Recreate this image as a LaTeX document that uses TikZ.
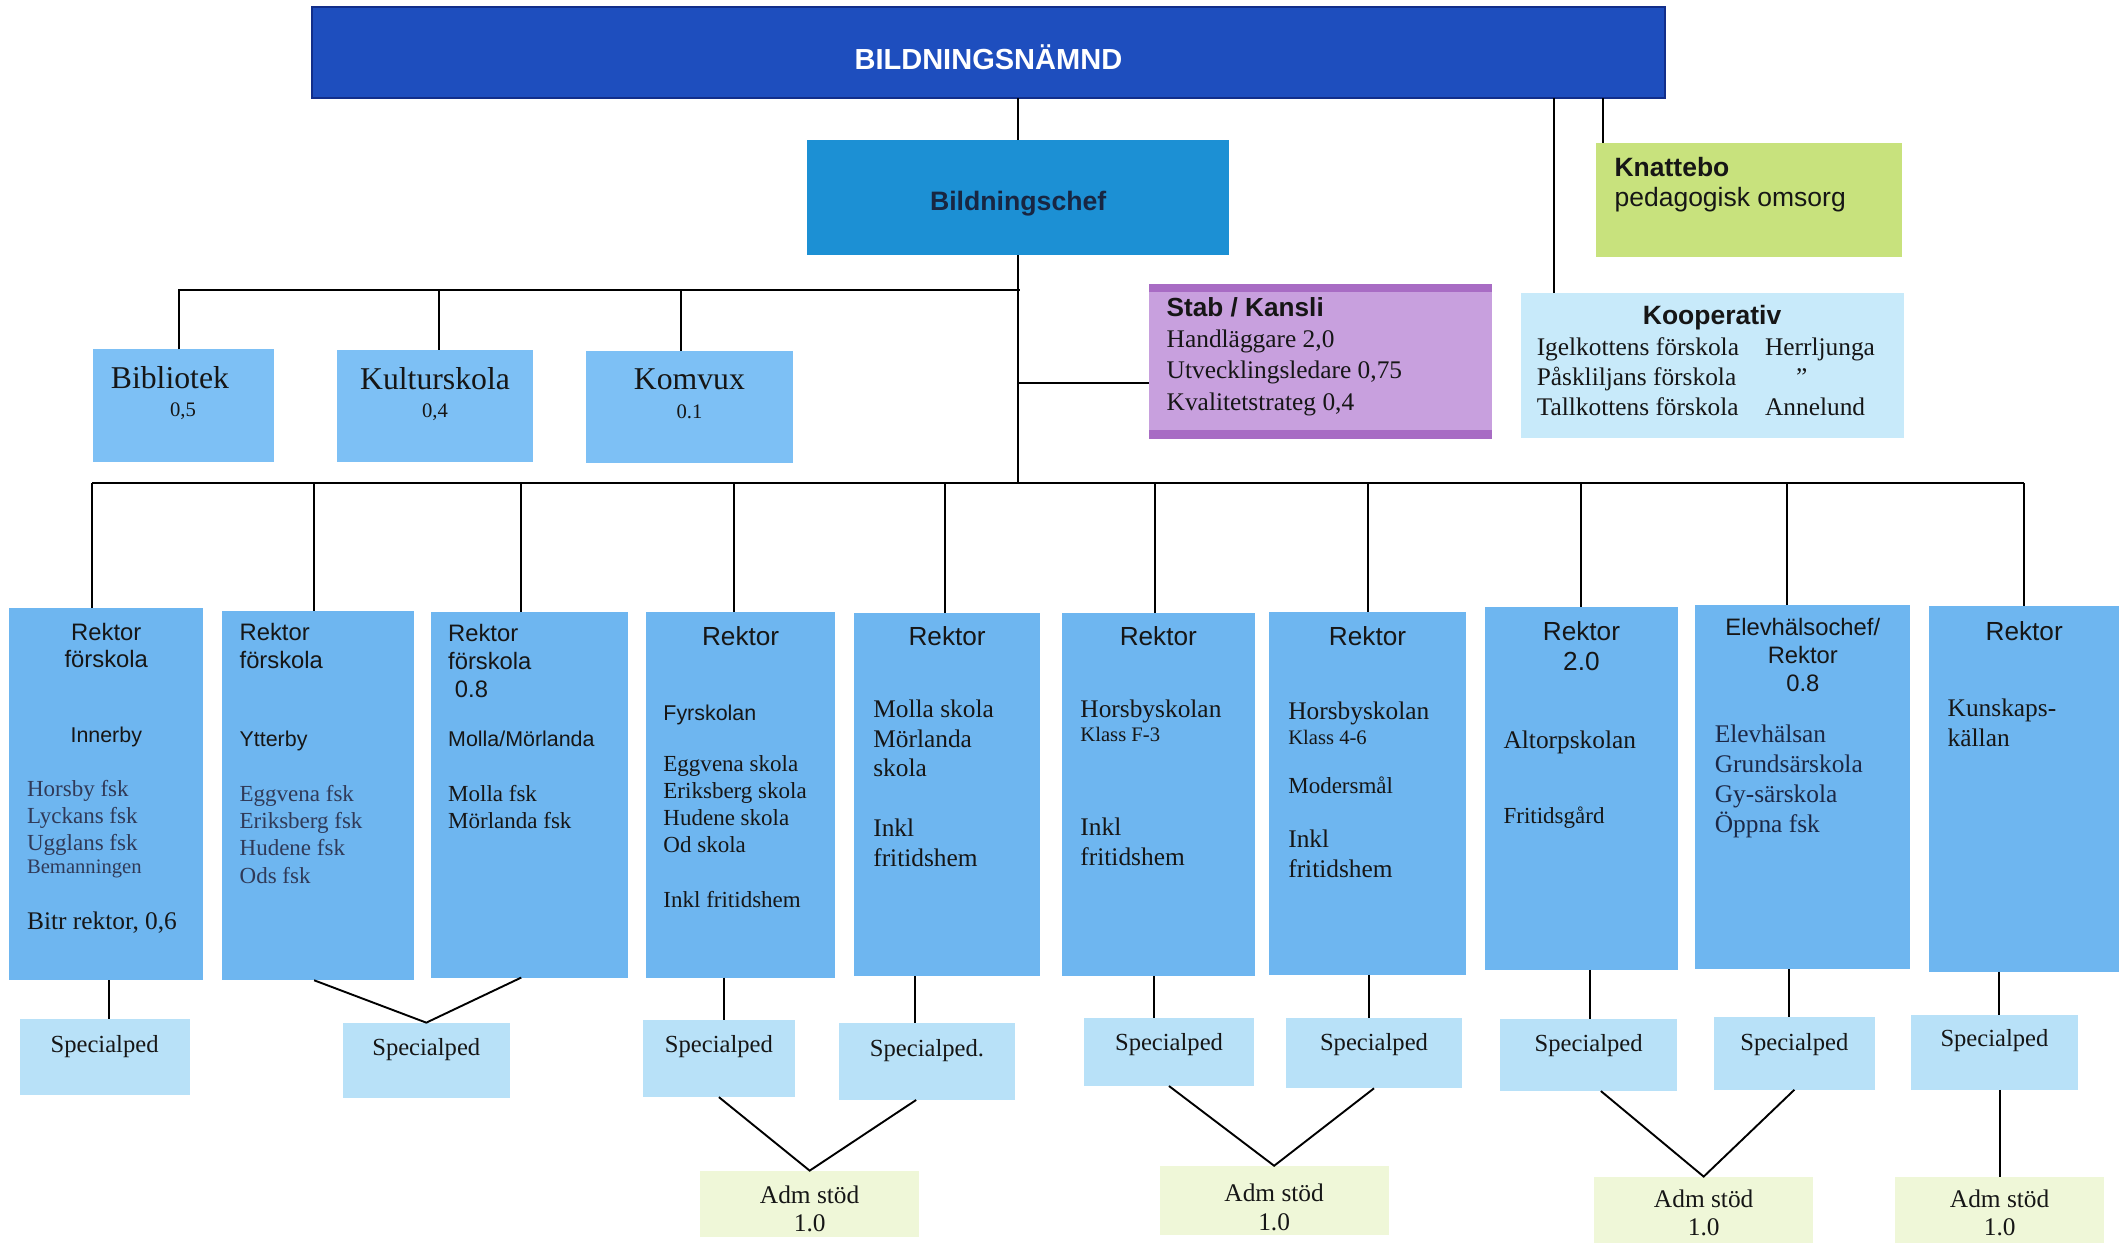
\documentclass[tikz,border=0pt]{standalone}
\usepackage{fontspec}
\setmainfont{Liberation Serif}
\setsansfont{Liberation Sans}
\usetikzlibrary{calc}

\newlength{\px}
\setlength{\px}{0.03cm}

\definecolor{board-blue}{RGB}{30,78,190}
\definecolor{board-edge}{RGB}{18,46,138}
\definecolor{chef-blue}{RGB}{28,144,212}
\definecolor{chef-text}{RGB}{24,38,66}
\definecolor{rektor-blue}{RGB}{110,182,240}
\definecolor{unit-blue}{RGB}{125,192,245}
\definecolor{spec-blue}{RGB}{184,225,248}
\definecolor{adm-green}{RGB}{239,247,216}
\definecolor{knatt-green}{RGB}{200,226,125}
\definecolor{stab-purple}{RGB}{200,160,222}
\definecolor{stab-edge}{RGB}{168,108,196}
\definecolor{koop-blue}{RGB}{200,234,250}
\definecolor{ink}{RGB}{22,22,22}
\definecolor{soft-ink}{RGB}{48,58,88}
\definecolor{navy-ink}{RGB}{28,40,70}

\newcommand{\inbox}[4]{\parbox[c][#2\px][t]{#1\px}{\rule{0pt}{#3\px}#4}}
\newcommand{\hdsmall}{\sffamily\fontsize{15}{20.5\px}\selectfont}
\newcommand{\hdlarge}{\sffamily\fontsize{16.5}{22.6\px}\selectfont}
\newcommand{\subsans}{\sffamily\fontsize{13.5}{19\px}\selectfont}
\newcommand{\bodytext}{\rmfamily\fontsize{14.5}{20\px}\selectfont}
\newcommand{\bodylarge}{\rmfamily\fontsize{16}{22\px}\selectfont}
\newcommand{\bodysmall}{\rmfamily\fontsize{13}{17\px}\selectfont}
\newcommand{\unitsmall}{\rmfamily\fontsize{13}{21\px}\selectfont}

\tikzset{
    org-node/.style = {anchor=north west, inner ysep=0pt, inner xsep=#1*\px, outer sep=0pt, text=ink},
    org-node/.default = 0,
    board-box/.style = {org-node, fill=board-blue, draw=board-edge, line width=1.2pt, text=white, font=\sffamily\bfseries\fontsize{18.3}{22}\selectfont},
    chef-box/.style = {org-node, fill=chef-blue, text=chef-text, font=\sffamily\bfseries\fontsize{16.8}{20}\selectfont},
    knatt-box/.style = {org-node=13.5, fill=knatt-green, font=\sffamily\fontsize{16.7}{22.6\px}\selectfont},
    stab-box/.style = {org-node=13, fill=stab-purple, font=\rmfamily\fontsize{16}{23\px}\selectfont},
    koop-box/.style = {org-node=12, fill=koop-blue, font=\rmfamily\fontsize{16}{22.2\px}\selectfont},
    unit-box/.style = {org-node=#1, fill=unit-blue, font=\rmfamily\fontsize{20}{24}\selectfont},
    unit-box/.default = 0,
    rektor-box/.style = {org-node=#1, fill=rektor-blue},
    rektor-box/.default = 13,
    spec-box/.style = {org-node, fill=spec-blue, font=\rmfamily\fontsize{15.5}{19}\selectfont},
    adm-box/.style = {org-node, fill=adm-green, font=\rmfamily\fontsize{16}{21\px}\selectfont},
    link/.style = {draw=black, line width=1.2pt},
}

\begin{document}
\begin{tikzpicture}[x=0.03cm, y=-0.03cm]
\path[use as bounding box, fill=white] (0,0) rectangle (1568,918);

\node[board-box] (board) at (230.6,5.4) {\inbox{998.8}{67.2}{45.8}{\centering BILDNINGSNÄMND\par}};
\node[chef-box] (chef) at (596,103.4) {\inbox{312}{85}{52.2}{\centering Bildningschef\par}};
\node[knatt-box] (knat) at (1179,105.4) {\inbox{199}{84.2}{24.6}{\raggedright\textbf{Knattebo}\\pedagogisk omsorg\par}};
\node[stab-box] (stab) at (848.7,209.8) {\inbox{227}{114.6}{24.1}{{\raggedright\sffamily\bfseries\fontsize{16.5}{23\px}\selectfont Stab / Kansli\par}{\raggedright Handläggare 2,0\\Utvecklingsledare 0,75\\Kvalitetstrateg 0,4\par}}};
\fill[stab-edge] (stab.north west) rectangle ($(stab.north east)+(0,6)$);
\fill[stab-edge] (stab.south west) rectangle ($(stab.south east)+(0,-7)$);
\node[koop-box] (koop) at (1123,216.6) {\inbox{259}{107}{23.4}{{\centering\sffamily\bfseries\fontsize{16.7}{22.2\px}\selectfont Kooperativ\par}{\raggedright\makebox[168.6\px][l]{Igelkottens förskola}Herrljunga\\\makebox[168.6\px][l]{Påskliljans förskola}\hspace{23\px}”\\\makebox[168.6\px][l]{Tallkottens förskola}Annelund\par}}};

\node[unit-box=13.5] (bib) at (68.4,258) {\inbox{106.6}{83}{28.7}{{\raggedright Bibliotek\par}{\centering\unitsmall 0,5\par}}};
\node[unit-box] (kult) at (248.8,258.5) {\inbox{145}{82.5}{29}{\centering Kulturskola\par{\unitsmall 0,4\par}}};
\node[unit-box] (komv) at (432.7,259) {\inbox{153}{82.7}{29}{\centering Komvux\par{\unitsmall 0.1\par}}};

\node[rektor-box] (r1) at (7,449) {\inbox{117}{275}{23.7}{%
    {\centering\hdsmall Rektor\\förskola\par}\vspace{36\px}
    {\centering\subsans Innerby\par}\vspace{20\px}
    {\raggedright\color{soft-ink}\bodytext Horsby fsk\\Lyckans fsk\\Ugglans fsk\par}
    {\raggedright\color{soft-ink}\bodysmall Bemanningen\par}\vspace{19.6\px}
    {\raggedright\bodylarge Bitr rektor, 0,6\par}}};
\node[rektor-box] (r2) at (164,451) {\inbox{116}{273}{22.2}{%
    {\raggedright\hdsmall Rektor\\förskola\par}\vspace{38.9\px}
    {\raggedright\subsans Ytterby\par}\vspace{20.6\px}
    {\raggedright\color{soft-ink}\bodytext Eggvena fsk\\Eriksberg fsk\\Hudene fsk\\Ods fsk\par}}};
\node[rektor-box] (r3) at (318,452) {\inbox{120}{270}{21.9}{%
    {\raggedright\hdsmall Rektor\\förskola\\\hspace*{5\px}0.8\par}\vspace{17.5\px}
    {\raggedright\subsans Molla/Mörlanda\par}\vspace{20.5\px}
    {\raggedright\bodytext Molla fsk\\Mörlanda fsk\par}}};
\node[rektor-box] (r4) at (477,452) {\inbox{114}{270}{24.4}{%
    {\centering\hdlarge Rektor\par}\vspace{36.4\px}
    {\raggedright\subsans Fyrskolan\par}\vspace{18.1\px}
    {\raggedright\bodytext Eggvena skola\\Eriksberg skola\\Hudene skola\\Od skola\par}\vspace{20.6\px}
    {\raggedright\bodytext Inkl fritidshem\par}}};
\node[rektor-box=14] (r5) at (631,453) {\inbox{109}{268}{23.4}{%
    {\centering\hdlarge Rektor\par}\vspace{31.4\px}
    {\raggedright\bodylarge Molla skola\\Mörlanda\\skola\par}\vspace{22.3\px}
    {\raggedright\bodylarge Inkl\\fritidshem\par}}};
\node[rektor-box=14] (r6) at (784,452.5) {\inbox{115}{268.5}{23.9}{%
    {\centering\hdlarge Rektor\par}\vspace{31.4\px}
    {\raggedright\bodylarge Horsbyskolan\par}\vspace{1\px}
    {\raggedright\bodysmall Klass F-3\par}\vspace{47.6\px}
    {\raggedright\bodylarge Inkl\\fritidshem\par}}};
\node[rektor-box=14.5] (r7) at (937,451.8) {\inbox{117}{268}{24.6}{%
    {\centering\hdlarge Rektor\par}\vspace{32.8\px}
    {\raggedright\bodylarge Horsbyskolan\par}\vspace{1.3\px}
    {\raggedright\bodysmall Klass 4-6\par}\vspace{16.9\px}
    {\raggedright\bodytext Modersmål\par}\vspace{17.4\px}
    {\raggedright\bodylarge Inkl\\fritidshem\par}}};
\node[rektor-box=13.5] (r8) at (1097,448) {\inbox{115}{268.4}{24.7}{%
    {\centering\hdlarge Rektor\\2.0\par}\vspace{35.4\px}
    {\raggedright\bodylarge Altorpskolan\par}\vspace{35.4\px}
    {\raggedright\bodytext Fritidsgård\par}}};
\node[rektor-box=14.5] (r9) at (1252,447) {\inbox{130}{269}{22.7}{%
    {\centering\hdsmall Elevhälsochef/\\Rektor\\0.8\par}\vspace{15.8\px}
    {\raggedright\color{navy-ink}\bodylarge Elevhälsan\\Grundsärskola\\Gy-särskola\\Öppna fsk\par}}};
\node[rektor-box=13.5] (r10) at (1425,447.6) {\inbox{113}{270}{25.1}{%
    {\centering\hdlarge Rektor\par}\vspace{34.6\px}
    {\raggedright\bodylarge Kunskaps-\\källan\par}}};

\node[spec-box] (sp1) at (14.5,752.8) {\inbox{125.5}{56}{24.7}{\centering Specialped\par}};
\node[spec-box] (sp2) at (253,755.3) {\inbox{123.7}{56}{23.9}{\centering Specialped\par}};
\node[spec-box] (sp3) at (474.7,753.3) {\inbox{112.5}{57}{24.2}{\centering Specialped\par}};
\node[spec-box] (sp4) at (619.3,755.8) {\inbox{130.7}{56.6}{24.2}{\centering Specialped.\par}};
\node[spec-box] (sp5) at (800.7,752.1) {\inbox{125.4}{50}{23.4}{\centering Specialped\par}};
\node[spec-box] (sp6) at (949.8,752.1) {\inbox{130}{51.7}{23.4}{\centering Specialped\par}};
\node[spec-box] (sp7) at (1108.1,752.8) {\inbox{130.5}{53}{23.9}{\centering Specialped\par}};
\node[spec-box] (sp8) at (1265.9,750.9) {\inbox{118.7}{54}{24.6}{\centering Specialped\par}};
\node[spec-box] (sp9) at (1411.4,749.6) {\inbox{123.3}{55.4}{23.4}{\centering Specialped\par}};

\node[adm-box] (adm1) at (517,864.6) {\inbox{162}{49}{24.1}{\centering Adm stöd\\1.0\par}};
\node[adm-box] (adm2) at (856.4,861) {\inbox{169.3}{51}{26.5}{\centering Adm stöd\\1.0\par}};
\node[adm-box] (adm3) at (1177.5,869) {\inbox{161.6}{49}{22.5}{\centering Adm stöd\\1.0\par}};
\node[adm-box] (adm4) at (1399.8,869) {\inbox{154.2}{49}{22.5}{\centering Adm stöd\\1.0\par}};

\coordinate (bus) at (753,357);
\coordinate (upbus) at (753,214.2);
\coordinate (stab-in) at ($(stab.west)+(0,15.5)$);
\coordinate (knat-in) at ($(knat.north west)+(5,0)$);
\coordinate (koop-in) at ($(koop.north west)+(25,0)$);

\draw[link] (chef.north |- board.south) -- (chef.north);
\draw[link] (chef.south) -- (chef.south |- bus);
\draw[link] (knat-in |- board.south) -- (knat-in);
\draw[link] (koop-in |- board.south) -- (koop-in);
\draw[link] (stab-in -| chef.south) -- (stab-in);
\draw[link] ($(bib.north)+(-3,0)$) |- (upbus);
\foreach \u/\dx in {kult/3, komv/-6}
    \draw[link] ($(\u.north |- upbus)+(\dx,0)$) -- ($(\u.north)+(\dx,0)$);

\draw[link] ($(r1.north |- bus)+(-10.5,0)$) -- (r10.north |- bus);
\foreach \n/\dx in {r1/-10.5, r2/-3, r3/-6, r4/-5, r5/-1.5, r6/-2.5, r7/0.4, r8/0, r9/-11.5, r10/0}
    \draw[link] ($(\n.north |- bus)+(\dx,0)$) -- ($(\n.north)+(\dx,0)$);

\foreach \r/\s/\dx in {r1/sp1/3, r4/sp3/4, r5/sp4/-9, r6/sp5/-11, r7/sp6/-4, r8/sp7/1, r9/sp8/-4, r10/sp9/3.4}
    \draw[link] ($(\r.south -| \s.north)+(\dx,0)$) -- ($(\s.north)+(\dx,0)$);
\draw[link] ($(r2.south)+(-3,0)$) -- (sp2.north) -- ($(r3.south)+(-6,0)$);

\draw[link] (sp3.south) -- (adm1.north) -- ($(sp4.south)+(-8,0)$);
\draw[link] (sp5.south) -- (adm2.north) -- (sp6.south);
\draw[link] ($(sp7.south)+(9,0)$) -- (adm3.north) -- (sp8.south);
\draw[link] (sp9.south -| adm4.north) -- (adm4.north);
\end{tikzpicture}
\end{document}
